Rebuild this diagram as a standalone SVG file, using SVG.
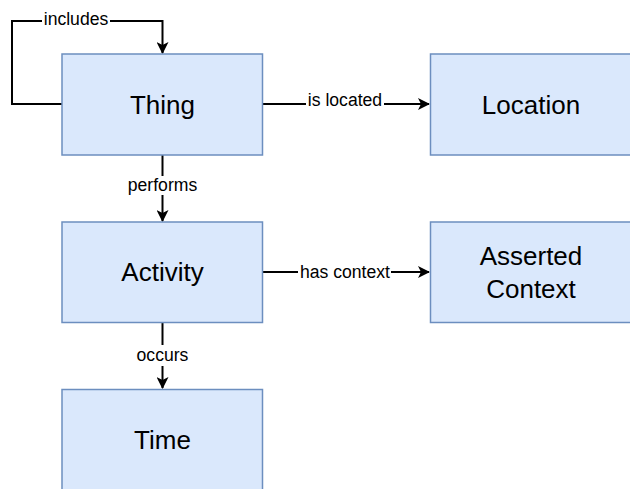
<svg xmlns="http://www.w3.org/2000/svg" width="630" height="489" viewBox="0 0 630 489">
  <defs>
    <style>
      .box { fill: #dae8fc; stroke: #6c8ebf; stroke-width: 1.5; }
      .node-text { font-family: "Liberation Sans", Arial, sans-serif; font-size: 26px; fill: #000; text-anchor: middle; }
      .edge { fill: none; stroke: #000; stroke-width: 2; }
      .label { font-family: "Liberation Sans", Arial, sans-serif; font-size: 17.6px; fill: #000; text-anchor: middle; }
      .label-bg { fill: #fff; }
    </style>
    <marker id="arrow" viewBox="0 0 12 12" markerWidth="12" markerHeight="12" refX="11" refY="6" orient="auto" markerUnits="userSpaceOnUse">
      <path d="M0,0 L12,6 L0,12 L3,6 Z" fill="#000"/>
    </marker>
  </defs>

  <g id="connectors">
    <g id="edge-includes">
      <path class="edge" d="M62,104 H12 V21 H162.5 V53" marker-end="url(#arrow)"/>
      <rect class="label-bg" x="42" y="10" width="68" height="20"/>
      <text class="label" x="76" y="25">includes</text>
    </g>
    <g id="edge-is-located">
      <path class="edge" d="M263,104 H429" marker-end="url(#arrow)"/>
      <rect class="label-bg" x="306" y="92" width="78" height="18"/>
      <text class="label" x="345" y="106">is located</text>
    </g>
    <g id="edge-performs">
      <path class="edge" d="M162.5,155 V221" marker-end="url(#arrow)"/>
      <rect class="label-bg" x="124" y="176" width="77" height="19"/>
      <text class="label" x="162.5" y="191">performs</text>
    </g>
    <g id="edge-has-context">
      <path class="edge" d="M263,272 H429" marker-end="url(#arrow)"/>
      <rect class="label-bg" x="298" y="262" width="93" height="19"/>
      <text class="label" x="345" y="278">has context</text>
    </g>
    <g id="edge-occurs">
      <path class="edge" d="M162.5,322 V388" marker-end="url(#arrow)"/>
      <rect class="label-bg" x="133" y="345" width="59" height="21"/>
      <text class="label" x="162.5" y="361">occurs</text>
    </g>
  </g>

  <g id="node-thing">
    <rect class="box" x="62" y="54" width="200.5" height="101"/>
    <text class="node-text" x="162.5" y="113.5">Thing</text>
  </g>
  <g id="node-location">
    <rect class="box" x="430.5" y="54" width="201" height="101"/>
    <text class="node-text" x="531" y="113.5">Location</text>
  </g>
  <g id="node-activity">
    <rect class="box" x="62" y="222" width="200.5" height="100.5"/>
    <text class="node-text" x="162.5" y="281">Activity</text>
  </g>
  <g id="node-asserted-context">
    <rect class="box" x="430.5" y="222" width="201" height="100.5"/>
    <text class="node-text" x="531" y="265">Asserted</text>
    <text class="node-text" x="531" y="298">Context</text>
  </g>
  <g id="node-time">
    <rect class="box" x="62" y="389.5" width="200.5" height="101"/>
    <text class="node-text" x="162.5" y="449">Time</text>
  </g>
</svg>
